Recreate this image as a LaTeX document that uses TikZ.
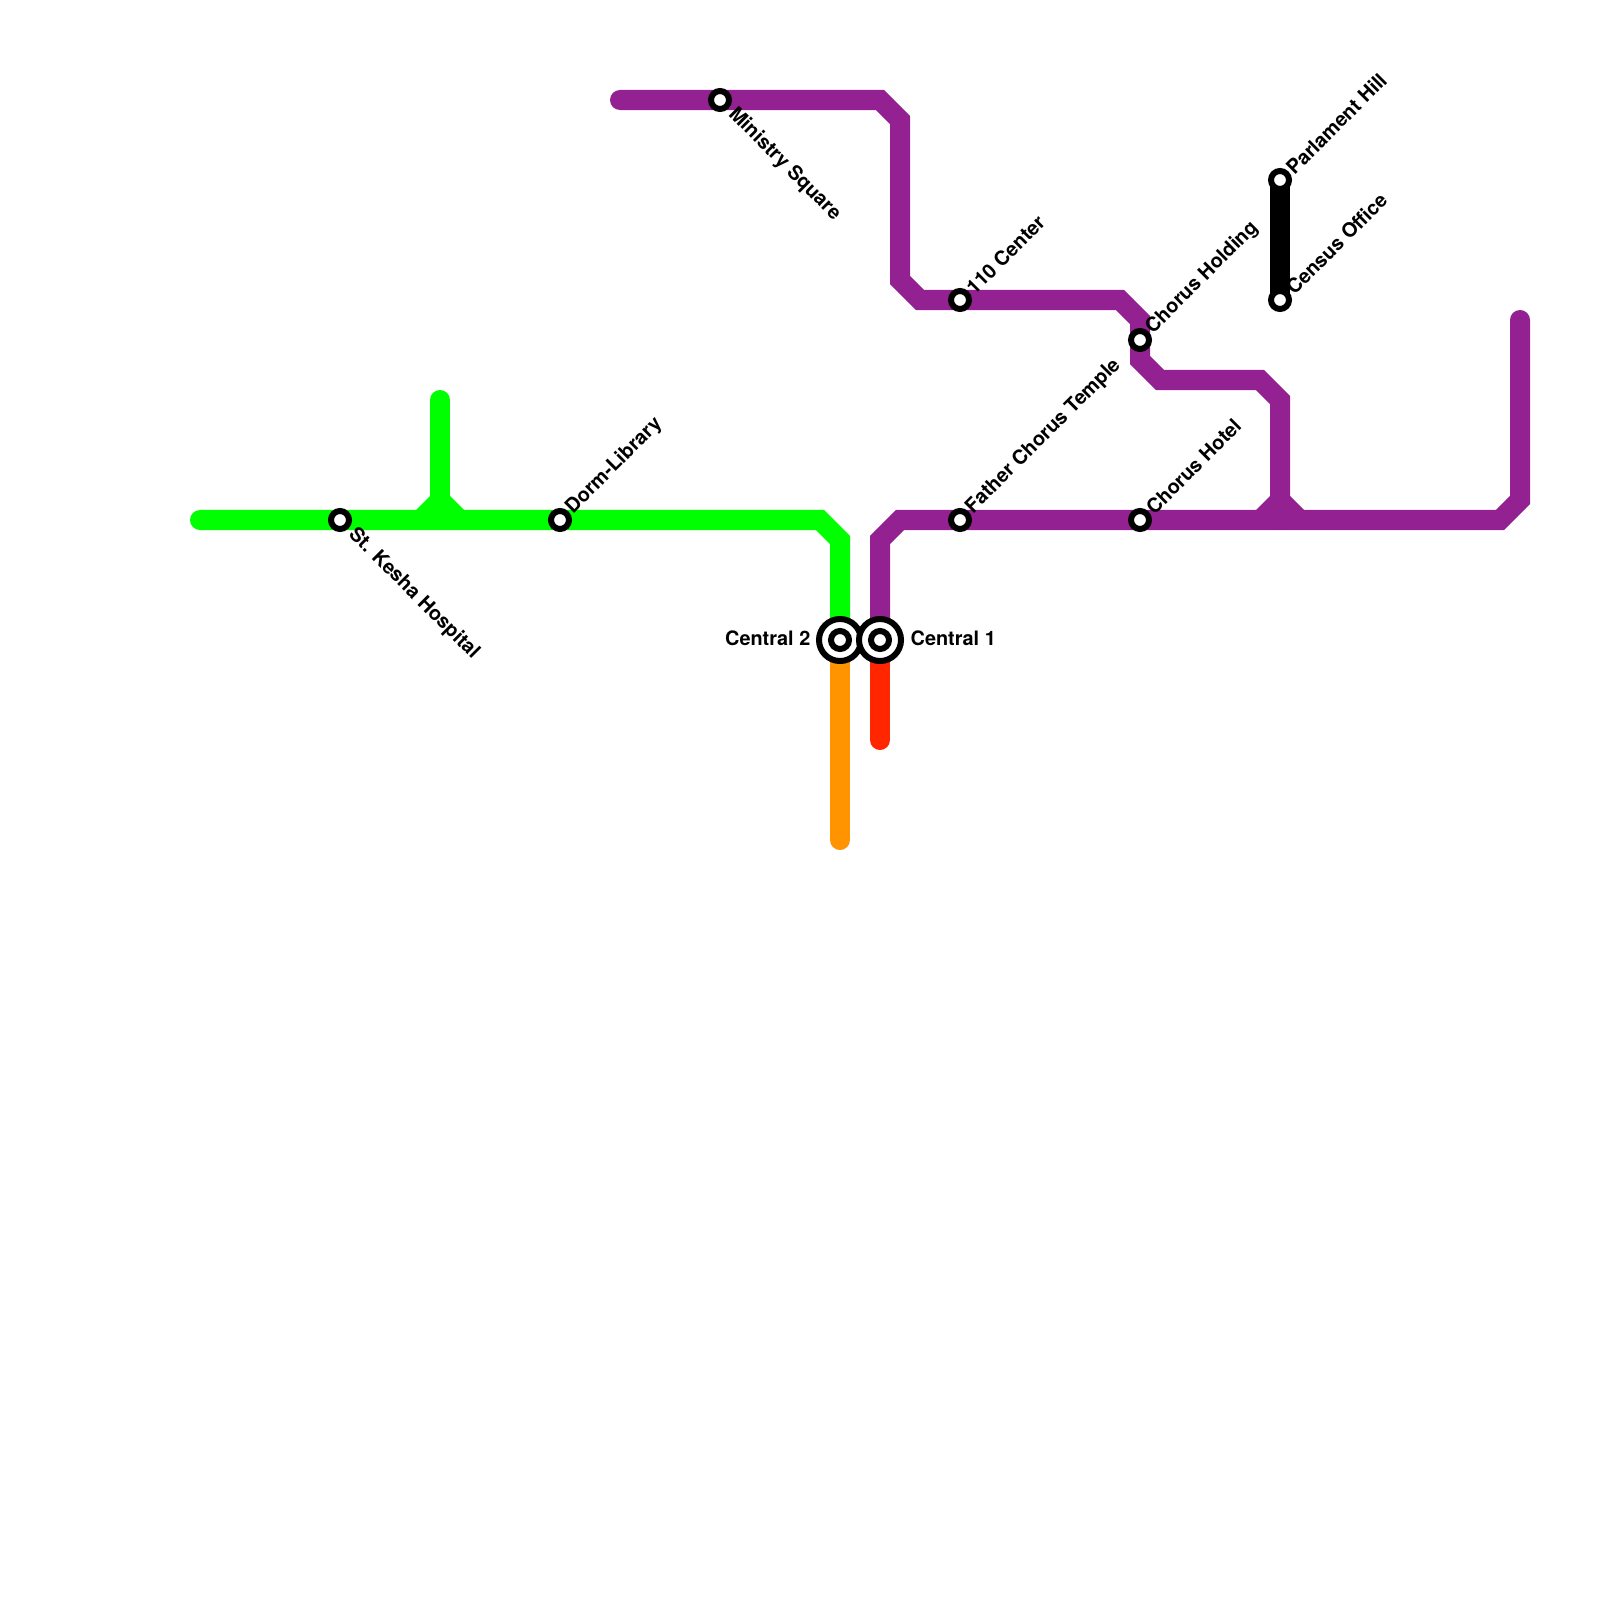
\documentclass[tikz,border=0pt]{standalone}
\usepackage{fontspec}
\setmainfont{TeX Gyre Heros}
\definecolor{gline}{HTML}{00FF00}
\definecolor{pline}{HTML}{942192}
\definecolor{oline}{HTML}{FF9300}
\definecolor{rline}{HTML}{FF2600}
\tikzset{
  route/.style={line width=0.2cm,line join=miter,line cap=round},
  stn/.style={circle,draw=black,fill=white,line width=0.06cm,minimum size=0.18cm,inner sep=0pt,outer sep=0pt},
  hub/.style={circle,draw=black,fill=white,line width=0.06cm,minimum size=0.42cm,inner sep=0pt,outer sep=0pt},
  lbl/.style={font=\bfseries\fontsize{5.65pt}{6.5pt}\selectfont,inner sep=0pt,text=black},
  up/.style={lbl,rotate=45,anchor=west},
  down/.style={lbl,rotate=-45,anchor=west}
}
\begin{document}
\begin{tikzpicture}[x=0.01cm,y=-0.01cm]
\useasboundingbox (0,0) rectangle (1600,1600);
% endpoints
\coordinate (gstart) at (200,520);
\coordinate (gtop) at (440,400);
\coordinate (gbend) at (820,520);
\coordinate (gbend2) at (840,540);
\coordinate (c2) at (840,640);
\coordinate (c1) at (880,640);
\coordinate (oend) at (840,840);
\coordinate (rend) at (880,740);
\coordinate (gj) at (440,520);
\coordinate (pj) at (1280,520);
% routes
\draw[route,oline] (c2) -- (oend);
\draw[route,rline] (c1) -- (rend);
\draw[route,gline] (gstart) -- (gbend) -- (gbend2) -- (c2);
\draw[route,gline] (gtop) -- (gj);
\fill[gline] (416,510) -- (430,496) -- (450,496) -- (464,510) -- (464,520) -- (416,520) -- cycle;
\draw[route,pline] (c1) -- (880,540) -- (900,520) -- (1500,520) -- (1520,500) -- (1520,320);
\draw[route,pline] (pj) -- (1280,400) -- (1260,380) -- (1160,380) -- (1140,360) -- (1140,320) -- (1120,300) -- (920,300) -- (900,280) -- (900,120) -- (880,100) -- (620,100);
\fill[pline] (1256,510) -- (1270,496) -- (1290,496) -- (1304,510) -- (1304,520) -- (1256,520) -- cycle;
\draw[line width=0.2cm,black] (1280,180) -- (1280,300);
% stations
\node[stn] (kesha) at (340,520) {};
\node[stn] (dorm) at (560,520) {};
\node[stn] (ministry) at (720,100) {};
\node[stn] (center) at (960,300) {};
\node[stn] (holding) at (1140,340) {};
\node[stn] (father) at (960,520) {};
\node[stn] (hotel) at (1140,520) {};
\node[stn] (parl) at (1280,180) {};
\node[stn] (census) at (1280,300) {};
\node[hub] (hubb) at (c2) {};
\node[stn] (hubbi) at (c2) {};
\node[hub] (huba) at (c1) {};
\node[stn] (hubai) at (c1) {};
% labels
\node[down] (lkesha) at (351,531) {St. Kesha Hospital};
\node[up] (ldorm) at (569,511) {Dorm-Library};
\node[down] (lministry) at (731,111) {Ministry Square};
\node[up] (lcenter) at (969,291) {110 Center};
\node[up] (lholding) at (1149,331) {Chorus Holding};
\node[up] (lfather) at (969,511) {Father Chorus Temple};
\node[up] (lhotel) at (1149,511) {Chorus Hotel};
\node[up] (lparl) at (1289,171) {Parlament Hill};
\node[up] (lcensus) at (1289,291) {Census Office};
\node[lbl,anchor=east] (lc2) at (811,638) {Central 2};
\node[lbl,anchor=west] (lc1) at (910,638) {Central 1};
\end{tikzpicture}
\end{document}
